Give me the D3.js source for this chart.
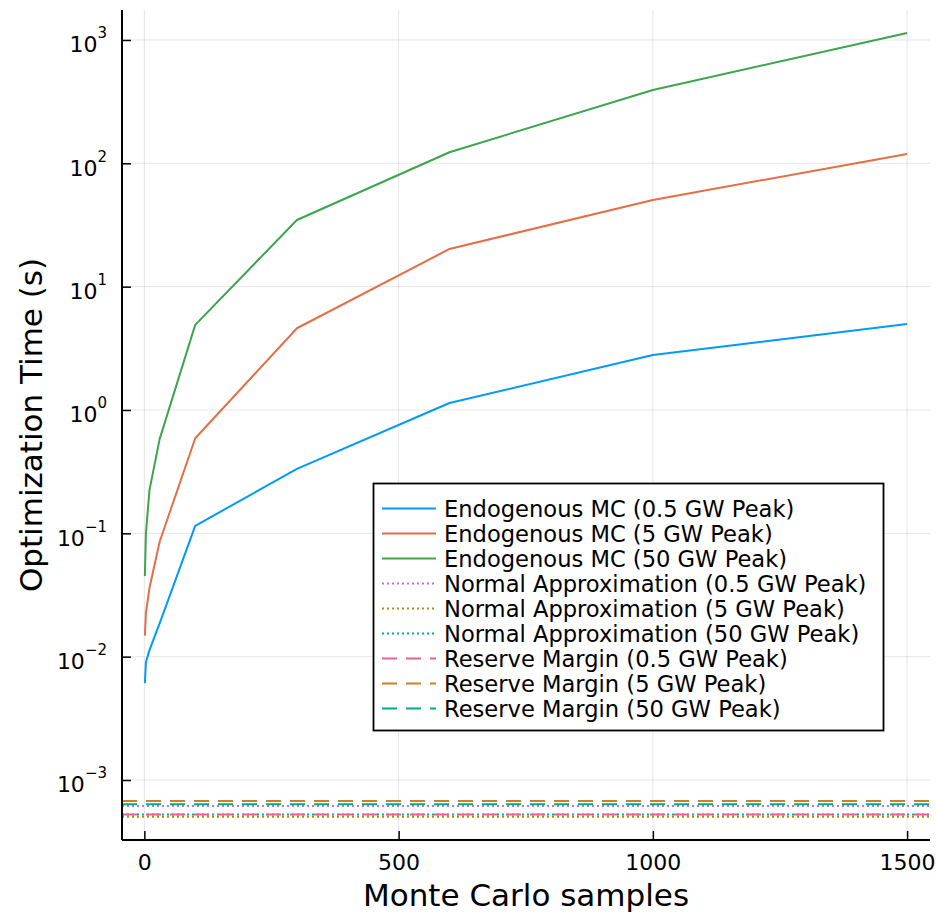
<!DOCTYPE html>
<html>
<head>
<meta charset="utf-8">
<script src="https://cdn.jsdelivr.net/npm/d3@7"></script>
<style>
  html, body { margin: 0; padding: 0; background: #fff; }
  svg { display: block; font-family: "DejaVu Sans", sans-serif; }
</style>
</head>
<body>
<svg id="chart" width="936" height="915"></svg>
<script>
// ---- data ----
const samples = [1, 3, 10, 30, 100, 300, 600, 1000, 1500];
const mc05 = [0.0061, 0.009, 0.0113, 0.0186, 0.115, 0.333, 1.14, 2.79, 4.98];
const mc5  = [0.0148, 0.0226, 0.036, 0.0855, 0.59, 4.6, 20.2, 50.5, 119];
const mc50 = [0.045, 0.1, 0.224, 0.58, 4.9, 34.7, 123, 393, 1140];
const normalApprox = [6.15e-4, 5.04e-4, 5.24e-4];   // 0.5, 5, 50 GW
const reserveMargin = [5.24e-4, 6.76e-4, 6.35e-4];  // 0.5, 5, 50 GW
const seriesNames = [
  "Endogenous MC (0.5 GW Peak)", "Endogenous MC (5 GW Peak)", "Endogenous MC (50 GW Peak)",
  "Normal Approximation (0.5 GW Peak)", "Normal Approximation (5 GW Peak)", "Normal Approximation (50 GW Peak)",
  "Reserve Margin (0.5 GW Peak)", "Reserve Margin (5 GW Peak)", "Reserve Margin (50 GW Peak)"
];
const xTicks = [0, 500, 1000, 1500];
const yTickExps = [-3, -2, -1, 0, 1, 2, 3];

// ---- styles ----
const colors = ["#009AFA", "#E36F47", "#3EA44E", "#C371D2", "#AC8E18", "#00AAAE", "#ED5E93", "#C68225", "#00A98D"];
const dashes = [null, null, null, "2,3", "2,3", "2,3", "15,9", "15,9", "15,9"];

const svg = d3.select("#chart");
const L = 122, R = 930, T = 10, B = 840;

const x = d3.scaleLinear().domain([-44, 1545]).range([L, R]);
const y = d3.scaleLog().domain([Math.pow(10, -3.4865), Math.pow(10, 3.243)]).range([B, T]);

// grid
const grid = svg.append("g");
xTicks.forEach(t => grid.append("line")
  .attr("x1", x(t)).attr("x2", x(t)).attr("y1", T).attr("y2", B)
  .attr("stroke", "#000").attr("stroke-opacity", 0.1).attr("stroke-width", 1));
yTickExps.forEach(e => grid.append("line")
  .attr("x1", L).attr("x2", R).attr("y1", y(Math.pow(10, e))).attr("y2", y(Math.pow(10, e)))
  .attr("stroke", "#000").attr("stroke-opacity", 0.1).attr("stroke-width", 1));

// lines
const line = d3.line().x(d => x(d[0])).y(d => y(d[1]));
const curves = [mc05, mc5, mc50];
curves.forEach((vals, i) => {
  svg.append("path")
    .datum(samples.map((s, j) => [s, vals[j]]))
    .attr("d", line)
    .attr("fill", "none")
    .attr("stroke", colors[i])
    .attr("stroke-width", 2)
    .attr("stroke-linejoin", "round");
});
const hvals = normalApprox.concat(reserveMargin);
hvals.forEach((v, k) => {
  const i = k + 3;
  svg.append("path")
    .datum([[x.domain()[0], v], [x.domain()[1], v]])
    .attr("d", line)
    .attr("fill", "none")
    .attr("stroke", colors[i])
    .attr("stroke-width", 2)
    .attr("stroke-dasharray", dashes[i]);
});

// axes
const xAxis = d3.axisBottom(x).tickValues(xTicks).tickSize(-9).tickPadding(0).tickFormat(d3.format("d"));
const gx = svg.append("g").attr("transform", `translate(0,${B})`).call(xAxis);
gx.select(".domain").remove();
gx.selectAll(".tick line").attr("stroke", "#000").attr("stroke-width", 1.5);
gx.selectAll(".tick text").attr("font-size", 22).attr("font-family", "DejaVu Sans")
  .attr("fill", "#000").attr("dy", null).attr("y", 30);
svg.append("line").attr("x1", L).attr("x2", R).attr("y1", B).attr("y2", B)
  .attr("stroke", "#000").attr("stroke-width", 2);

const yAxis = d3.axisLeft(y).tickValues(yTickExps.map(e => Math.pow(10, e))).tickSize(-9).tickFormat("");
const gy = svg.append("g").attr("transform", `translate(${L},0)`).call(yAxis);
gy.select(".domain").remove();
gy.selectAll(".tick line").attr("stroke", "#000").attr("stroke-width", 1.5);
gy.selectAll(".tick").each(function(d) {
  const e = Math.round(Math.log10(d));
  const t = d3.select(this).append("text")
    .attr("text-anchor", "end").attr("x", -15).attr("y", 12)
    .attr("fill", "#000").attr("font-family", "DejaVu Sans");
  t.append("tspan").attr("font-size", 22).text("10");
  t.append("tspan").attr("font-size", 15).attr("dy", -14).text(e < 0 ? "\u2212" + (-e) : String(e));
});
svg.append("line").attr("x1", L).attr("x2", L).attr("y1", T).attr("y2", B)
  .attr("stroke", "#000").attr("stroke-width", 2);

// axis labels
svg.append("text").attr("x", (L + R) / 2).attr("y", 906).attr("text-anchor", "middle")
  .attr("font-size", 31).attr("fill", "#000").text("Monte Carlo samples");
svg.append("text").attr("transform", `translate(42,${(T + B) / 2}) rotate(-90)`)
  .attr("text-anchor", "middle").attr("font-size", 31).attr("fill", "#000")
  .text("Optimization Time (s)");

// legend
const lg = svg.append("g");
lg.append("rect").attr("x", 373.5).attr("y", 483.5).attr("width", 510).attr("height", 247)
  .attr("fill", "#fff").attr("stroke", "#000").attr("stroke-width", 1.8);
seriesNames.forEach((name, i) => {
  const cy = 508.5 + 25 * i;
  lg.append("line").attr("x1", 382).attr("x2", 436).attr("y1", cy).attr("y2", cy)
    .attr("stroke", colors[i]).attr("stroke-width", 2)
    .attr("stroke-dasharray", dashes[i]);
  lg.append("text").attr("x", 444).attr("y", cy + 8).attr("font-size", 22.6)
    .attr("fill", "#000").text(name);
});
</script>
</body>
</html>
